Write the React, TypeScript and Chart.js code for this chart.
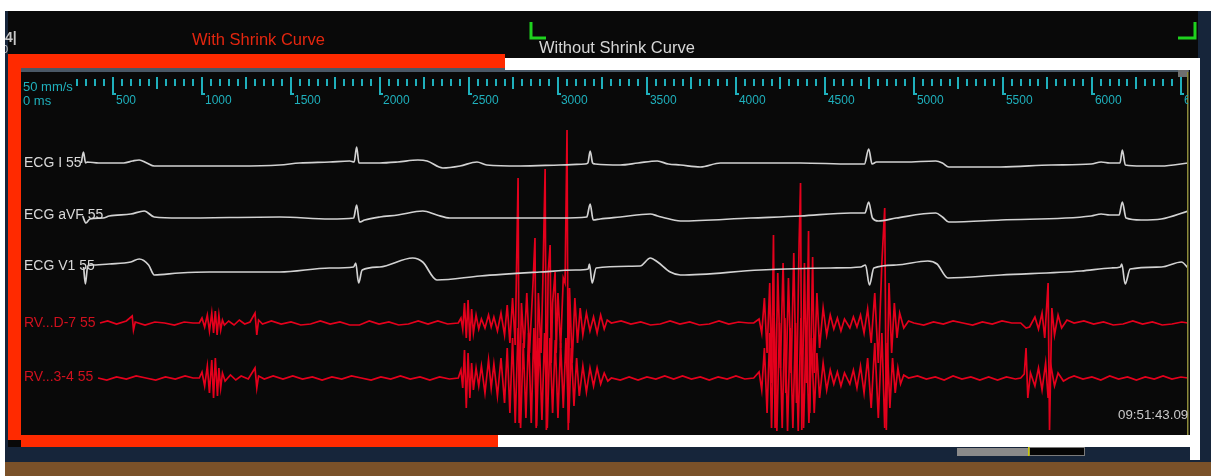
import { useEffect, useRef } from "react";
import { Chart, registerables } from "chart.js";

Chart.register(...registerables);

// ---------- data (time in ms, deflection in display units, positive = up) ----------
const X_MAX = 6540;
const RULER_START = 300;
const RULER_STEP = 50;
const RULER_LABELS = [500, 1000, 1500, 2000, 2500, 3000, 3500, 4000, 4500, 5000, 5500, 6000, 6500];

const CHANNEL_LABELS = ["ECG I 55", "ECG aVF 55", "ECG V1 55", "RV...D-7 55", "RV...3-4 55"];

const ECG_I: [number, number][] = [
  [322, 2], [334, 13], [346, 2], [355, 3], [420, 2], [560, 2], [610, 4], [647, 5], [690, 2], [732, -1], [900, -1],
  [1200, -1], [1436, 0], [1548, 2], [1717, 3], [1830, 4], [1855, 3], [1869, 18], [1882, 2], [1897, 2], [1999, 2],
  [2100, 3], [2213, 5], [2265, 4], [2353, -3], [2450, -1], [2545, 3], [2600, 0], [2787, -1], [3012, 0], [3150, 1],
  [3168, 2], [3181, 14], [3195, 2], [3209, 1], [3350, 0], [3450, 2], [3558, 4], [3620, 1], [3688, 0], [3800, -2],
  [3913, 2], [4082, 2], [4363, 2], [4645, 1], [4722, 1], [4746, 16], [4765, 1], [4790, 3], [4950, 3], [5123, 4],
  [5160, 2], [5196, -2], [5489, -2], [5771, 0], [5996, 1], [6052, 3], [6100, 2], [6158, 2], [6171, 15], [6188, 0],
  [6280, -1], [6390, -1], [6540, 2],
];

const ECG_AVF: [number, number][] = [
  [330, 2], [348, -5], [370, -1], [445, 0], [479, 2], [600, 4], [676, 7], [732, 1], [873, 0], [1436, 1], [1717, -1],
  [1852, 0], [1869, 13], [1885, -4], [1914, -2], [1999, 1], [2100, 3], [2241, 7], [2320, 3], [2393, 0], [2674, 0],
  [3012, 0], [3162, 1], [3181, 14], [3198, -2], [3237, -1], [3350, 1], [3519, 4], [3560, 2], [3650, -2], [3688, -3],
  [4082, 0], [4363, 2], [4645, 5], [4725, 5], [4746, 16], [4767, 0], [4800, -3], [4900, 0], [5123, 5], [5160, 1],
  [5196, -4], [5489, -2], [5996, 2], [6052, 4], [6100, 3], [6153, 3], [6171, 16], [6192, 0], [6277, -2], [6390, -1],
  [6540, 7],
];

const ECG_V1: [number, number][] = [
  [335, 3], [345, -14], [358, 4], [390, 5], [479, 6], [600, 8], [647, 11], [700, 5], [732, -5], [873, -3], [1042, -2],
  [1436, -2], [1717, 2], [1852, 3], [1864, 7], [1880, -13], [1900, 0], [1999, 3], [2184, 12], [2240, 8], [2320, -10],
  [2562, -6], [2900, -2], [3100, 0], [3170, 1], [3177, 6], [3192, -13], [3215, 2], [3462, 4], [3519, 12], [3560, 8],
  [3631, -2], [3688, -5], [4138, 0], [4532, 2], [4701, 3], [4728, 5], [4750, -15], [4775, 2], [4900, 5], [5078, 9],
  [5130, 6], [5191, -8], [5489, -5], [5940, -1], [6108, 2], [6160, 3], [6168, 6], [6187, -14], [6215, 1], [6390, 3],
  [6503, 8], [6540, 2],
];

const RV_D7: [number, number][] = [
  [427, 0], [470, 2], [520, -1], [575, 2], [608, 7], [615, -7], [625, 1], [680, -2], [735, 1], [790, 0], [845, -2],
  [900, 1], [950, 0], [985, 0], [1000, 5], [1015, -4], [1030, 8], [1042, -8], [1055, 10], [1065, -10], [1075, 12],
  [1085, -12], [1095, 8], [1105, -7], [1115, 3], [1126, -2], [1150, 2], [1180, -2], [1210, 3], [1240, -1], [1270, 1],
  [1298, 10], [1308, -12], [1318, 3], [1340, -1], [1390, 2], [1445, -1], [1500, 1], [1555, -2], [1610, -1], [1665, 2],
  [1720, -1], [1775, 1], [1830, -2], [1885, -2], [1940, 2], [1995, -1], [2050, 1], [2105, -2], [2160, -1], [2215, 2],
  [2270, -1], [2325, 2], [2380, -1], [2440, 0], [2455, 5], [2465, -6], [2475, 20], [2485, -15], [2495, 23], [2505, -18],
  [2515, 14], [2525, -10], [2540, 8], [2555, -6], [2570, 4], [2590, -5], [2610, 8], [2625, -4], [2640, 6], [2660, -8],
  [2680, 10], [2700, -12], [2715, 18], [2730, -20], [2745, 25], [2760, -22], [2776, 145], [2782, -100], [2795, 20],
  [2810, -25], [2825, 30], [2840, -30], [2860, 40], [2871, 85], [2878, -105], [2890, 30], [2905, -30], [2915, 40],
  [2928, 154], [2935, -107], [2945, 50], [2956, 78], [2962, -40], [2970, 20], [2984, 51], [2990, -30], [3000, 30],
  [3015, -25], [3030, 45], [3040, 40], [3051, 193], [3058, -107], [3065, 35], [3080, -40], [3095, 25], [3110, -20],
  [3125, 15], [3140, -12], [3160, 10], [3180, -8], [3200, 6], [3220, -10], [3240, 8], [3260, -6], [3277, 3], [3300, 0],
  [3355, 2], [3410, -1], [3465, 1], [3520, -2], [3575, -1], [3630, 2], [3685, -1], [3740, 1], [3795, -2], [3850, -1],
  [3905, 2], [3960, -1], [4015, 1], [4070, 0], [4100, 0], [4130, 4], [4145, -10], [4160, 25], [4175, -30], [4190, 40],
  [4200, -60], [4211, 88], [4220, -105], [4235, 50], [4250, -45], [4265, 60], [4280, -70], [4295, 45], [4310, -50],
  [4325, 70], [4340, -80], [4355, 80], [4363, 140], [4370, -107], [4385, 60], [4395, -60], [4408, 92], [4415, -90],
  [4431, 66], [4440, -50], [4455, 30], [4470, -25], [4490, 15], [4510, -12], [4530, 8], [4550, -6], [4570, 5],
  [4590, -8], [4610, 4], [4640, -5], [4660, 6], [4680, -4], [4700, 8], [4720, -10], [4740, 14], [4760, -20], [4780, 30],
  [4800, -40], [4820, 60], [4836, 115], [4845, -107], [4860, 40], [4875, -30], [4890, 20], [4905, -15], [4920, 10],
  [4943, -5], [4970, 2], [5000, 0], [5055, -2], [5110, 1], [5165, -1], [5220, 2], [5275, 0], [5330, -2], [5385, 1],
  [5440, -1], [5495, 2], [5550, 0], [5600, 0], [5630, -5], [5650, -4], [5680, 6], [5700, -6], [5720, 10], [5735, -15],
  [5754, 40], [5762, -107], [5775, 15], [5790, -12], [5810, 8], [5830, -5], [5860, 3], [5900, 0], [5955, 2], [6010, -1],
  [6065, 1], [6120, -2], [6175, -1], [6230, 2], [6285, -1], [6340, 1], [6395, -2], [6450, -1], [6505, 1], [6540, 0],
];

const RV_34: [number, number][] = [
  [416, 0], [465, -2], [520, 1], [575, -1], [630, 2], [685, 0], [740, -2], [795, 1], [850, -1], [905, 2], [950, 0],
  [985, 0], [1000, 6], [1015, -8], [1030, 12], [1042, -15], [1055, 18], [1065, -20], [1075, 20], [1087, -18],
  [1095, 10], [1105, -10], [1115, 5], [1130, -3], [1160, 3], [1190, -2], [1220, 2], [1260, -1], [1298, 10],
  [1308, -10], [1318, 2], [1350, -1], [1400, 2], [1455, -1], [1510, 2], [1565, -1], [1620, 1], [1675, -2], [1730, 1],
  [1785, -1], [1840, 2], [1895, 0], [1950, -2], [2005, 1], [2060, -1], [2115, 2], [2170, -1], [2225, 1], [2280, -2],
  [2335, 1], [2390, -1], [2440, 0], [2455, 8], [2465, -10], [2475, 28], [2485, -30], [2495, 25], [2505, -20],
  [2515, 15], [2525, -12], [2540, 10], [2555, -8], [2570, 12], [2590, -15], [2610, 18], [2625, -10], [2640, 14],
  [2660, -18], [2680, 20], [2700, -25], [2715, 30], [2730, -35], [2745, 40], [2760, -45], [2776, 50], [2790, -50],
  [2805, 35], [2820, -40], [2835, 45], [2850, -45], [2865, 50], [2880, -48], [2895, 40], [2910, -42], [2925, 45],
  [2940, -50], [2955, 40], [2970, -35], [2985, 38], [3000, -40], [3015, 35], [3030, -30], [3045, 40], [3060, -45],
  [3075, 30], [3090, -28], [3105, 20], [3120, -18], [3140, 12], [3160, -14], [3180, 10], [3200, -8], [3220, 10],
  [3240, -6], [3260, 5], [3280, -3], [3300, 0], [3350, -2], [3400, 1], [3450, -2], [3500, 1], [3550, -1], [3600, 2],
  [3650, -1], [3700, 2], [3750, -1], [3800, 1], [3850, -2], [3900, 1], [3950, -1], [4000, 2], [4050, -1], [4100, 0],
  [4130, 6], [4145, -12], [4160, 30], [4175, -35], [4190, 45], [4200, -50], [4215, 60], [4230, -53], [4245, 55],
  [4260, -50], [4275, 60], [4290, -53], [4305, 50], [4320, -50], [4335, 55], [4350, -53], [4365, 60], [4380, -50],
  [4395, 50], [4410, -45], [4425, 40], [4440, -35], [4455, 25], [4470, -20], [4490, 15], [4510, -12], [4530, 8],
  [4550, -6], [4570, 6], [4590, -8], [4610, 5], [4640, -6], [4660, 8], [4680, -10], [4700, 12], [4720, -15],
  [4740, 20], [4760, -30], [4780, 35], [4800, -40], [4820, 45], [4836, -50], [4850, 35], [4865, -30], [4880, 20],
  [4895, -15], [4910, 10], [4925, -6], [4943, 3], [4970, 0], [5020, 2], [5070, -1], [5120, 1], [5170, -2], [5220, 2],
  [5270, -1], [5320, 1], [5370, -2], [5420, 1], [5470, -2], [5520, 1], [5570, -1], [5600, 0], [5620, 4], [5630, 30],
  [5640, -20], [5655, 5], [5680, -8], [5700, 10], [5720, -12], [5740, 15], [5754, -20], [5770, 12], [5790, -8],
  [5810, 5], [5840, -3], [5870, 0], [5900, 2], [5950, -1], [6000, 1], [6050, -2], [6100, 2], [6150, -1], [6200, 1],
  [6250, -2], [6300, 1], [6350, -1], [6400, 2], [6450, -1], [6500, 1], [6540, 0],
];

const CHANNEL_DATA = [ECG_I, ECG_AVF, ECG_V1, RV_D7, RV_34];

// ---------- layout / style ----------
const W = 1211;
const H = 476;
const Y_MAX = 362;
const CHANNEL_BASE = [270, 217, 165, 112, 57];
const CHANNEL_LABEL_Y = [163, 215, 266, 323, 377];
const ECG_COLOR = "#d2d2d2";
const RED_TRACE = "#e4001c";
const RED_LABEL = "#d0101e";
const BAR_RED = "#ff2a00";
const CYAN = "#1fb0bc";
const FONT = "'Liberation Sans', Arial, sans-serif";

const decor = {
  id: "decor",
  beforeDraw(chart: any) {
    const ctx: CanvasRenderingContext2D = chart.ctx;
    ctx.save();
    ctx.fillStyle = "#ffffff";
    ctx.fillRect(0, 0, W, H);
    ctx.fillStyle = "#16253a";
    ctx.fillRect(5, 11, W - 5, 451);
    ctx.fillStyle = "#090909";
    ctx.fillRect(8, 11, 1190, 436);
    ctx.fillStyle = "#7a5129";
    ctx.fillRect(5, 462, W - 5, 14);
    ctx.restore();
  },
  afterDraw(chart: any) {
    const ctx: CanvasRenderingContext2D = chart.ctx;
    const xs = chart.scales.x;
    const area = chart.chartArea;
    ctx.save();

    // thin grey line under the top bars
    ctx.fillStyle = "#4a5866";
    ctx.fillRect(21, 68, 1168, 4);
    // small grey square at top right of ruler
    ctx.fillStyle = "#6e6e6e";
    ctx.fillRect(1178, 70, 10, 7);
    // yellowish right edge line
    ctx.fillStyle = "#8c8a3a";
    ctx.fillRect(1187, 72, 1.5, 363);

    // red (with shrink) frame
    ctx.fillStyle = BAR_RED;
    ctx.fillRect(8, 54, 497, 14);
    ctx.fillRect(8, 54, 13, 386);
    ctx.fillRect(21, 435, 477, 12);
    // white (without shrink) frame
    ctx.fillStyle = "#ffffff";
    ctx.fillRect(505, 58, 695, 12);
    ctx.fillRect(1190, 58, 10, 402);
    ctx.fillRect(498, 435, 702, 12);

    // ruler
    ctx.fillStyle = CYAN;
    for (let t = RULER_START; t <= X_MAX; t += RULER_STEP) {
      const px = Math.round(xs.getPixelForValue(t));
      if (t % 500 === 0) {
        ctx.fillRect(px - 1, 77, 2, 18);
        ctx.fillRect(px - 1, 93, 4, 2);
      } else if (t % 250 === 0) {
        ctx.fillRect(px - 1, 77, 2, 12);
      } else {
        ctx.fillRect(px - 1, 79, 2, 7);
      }
    }
    ctx.save();
    ctx.beginPath();
    ctx.rect(area.left, 60, area.right - area.left, 60);
    ctx.clip();
    ctx.font = `12px ${FONT}`;
    ctx.textBaseline = "middle";
    ctx.textAlign = "left";
    for (const v of RULER_LABELS) {
      ctx.fillText(String(v), xs.getPixelForValue(v) + 3, 101);
    }
    ctx.restore();
    ctx.font = `13px ${FONT}`;
    ctx.textBaseline = "middle";
    ctx.fillText("50 mm/s", 23, 87);
    ctx.fillText("0 ms", 23, 101);

    // titles
    ctx.font = `16.5px ${FONT}`;
    ctx.fillStyle = "#e4260f";
    ctx.fillText("With Shrink Curve", 192, 40);
    ctx.fillStyle = "#d6d6d6";
    ctx.fillText("Without Shrink Curve", 539, 48);

    // top-left fragments
    ctx.fillStyle = "#c8c8c8";
    ctx.font = `bold 14px ${FONT}`;
    ctx.fillText("4|", 5, 38);
    ctx.save();
    ctx.beginPath();
    ctx.rect(5, 44, 5, 10);
    ctx.clip();
    ctx.font = `11px ${FONT}`;
    ctx.fillText("0", 2, 50);
    ctx.restore();

    // green markers
    ctx.strokeStyle = "#1ed21e";
    ctx.lineWidth = 3;
    ctx.beginPath();
    ctx.moveTo(531, 22);
    ctx.lineTo(531, 38);
    ctx.lineTo(546, 38);
    ctx.moveTo(1178, 38);
    ctx.lineTo(1195, 38);
    ctx.lineTo(1195, 22);
    ctx.stroke();

    // channel labels
    ctx.font = `14px ${FONT}`;
    CHANNEL_LABELS.forEach((lab, i) => {
      ctx.fillStyle = i < 3 ? "#d8d8d8" : RED_LABEL;
      ctx.fillText(lab, 24, CHANNEL_LABEL_Y[i]);
    });

    // timestamp
    ctx.save();
    ctx.beginPath();
    ctx.rect(1100, 400, 88, 30);
    ctx.clip();
    ctx.fillStyle = "#c8c8c8";
    ctx.font = `13.3px ${FONT}`;
    ctx.fillText("09:51:43.09", 1118, 415);
    ctx.restore();

    // bottom status strip bits
    ctx.fillStyle = "#8a8a8a";
    ctx.fillRect(957, 448, 71, 8);
    ctx.fillStyle = "#050505";
    ctx.fillRect(1029, 447, 56, 9);
    ctx.strokeStyle = "#7a7a7a";
    ctx.lineWidth = 1;
    ctx.strokeRect(1029.5, 447.5, 55, 8);
    ctx.fillStyle = "#c8c800";
    ctx.fillRect(1028, 447, 1.5, 9);

    ctx.restore();
  },
};

export default function App() {
  const ref = useRef<HTMLCanvasElement>(null);
  useEffect(() => {
    if (!ref.current) return;
    const datasets = CHANNEL_DATA.map((arr, i) => ({
      label: CHANNEL_LABELS[i],
      data: arr.map(([t, v]) => ({ x: t, y: CHANNEL_BASE[i] + v })),
      borderColor: i < 3 ? ECG_COLOR : RED_TRACE,
      borderWidth: i < 3 ? 1.7 : 1.7,
      pointRadius: 0,
      fill: false,
      tension: 0,
      cubicInterpolationMode: i < 3 ? ("monotone" as const) : ("default" as const),
    }));
    const chart = new Chart(ref.current, {
      type: "line",
      data: { datasets },
      options: {
        animation: false,
        responsive: false,
        devicePixelRatio: 1,
        parsing: false,
        layout: { padding: { left: 24, right: W - 1188, top: 73, bottom: H - 435 } },
        scales: {
          x: { type: "linear", min: 0, max: X_MAX, display: false },
          y: { type: "linear", min: 0, max: Y_MAX, display: false },
        },
        plugins: { legend: { display: false }, tooltip: { enabled: false } },
      },
      plugins: [decor],
    });
    return () => chart.destroy();
  }, []);
  return (
    <div style={{ position: "fixed", left: 0, top: 0, width: W, height: H }}>
      <canvas ref={ref} width={W} height={H} style={{ display: "block", width: W, height: H }} />
    </div>
  );
}
